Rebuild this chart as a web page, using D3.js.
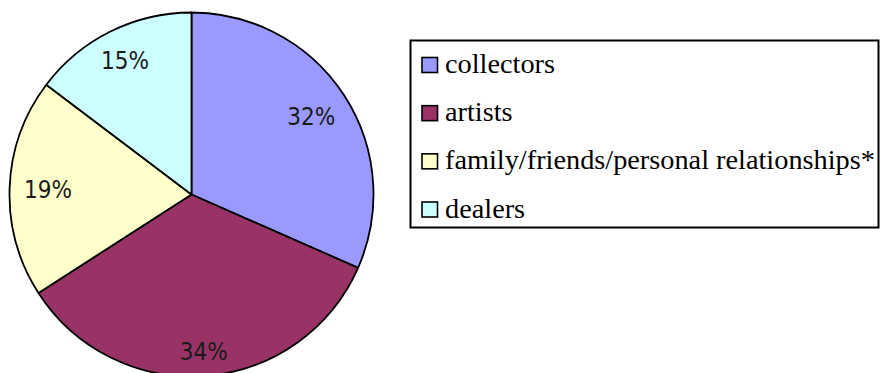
<!DOCTYPE html>
<html>
<head>
<meta charset="utf-8">
<script src="https://cdn.jsdelivr.net/npm/d3@7"></script>
<style>
  body { margin: 0; background: #fff; }
  svg { display: block; }
</style>
</head>
<body>
<div id="chart"></div>
<script>
// Chart data
const categories = ['collectors', 'artists', 'family/friends/personal relationships*', 'dealers'];
const shares = [31.6, 34.3, 19.4, 14.7];
const colors = ['#9999ff', '#993366', '#ffffcc', '#ccffff'];

const width = 881;
const height = 373;

const svg = d3.select('#chart')
    .append('svg')
    .attr('width', width)
    .attr('height', height);

// Pie
const cx = 191.5, cy = 194.5, radius = 182;
const data = categories.map((c, i) => ({name: c, value: shares[i], color: colors[i]}));

const pie = d3.pie()
    .value(d => d.value)
    .sort(null);

const arc = d3.arc()
    .innerRadius(0)
    .outerRadius(radius);

const g = svg.append('g')
    .attr('transform', `translate(${cx},${cy})`);

const arcs = g.selectAll('.slice')
    .data(pie(data))
    .enter()
    .append('g')
    .attr('class', 'slice');

arcs.append('path')
    .attr('d', arc)
    .attr('fill', d => d.data.color)
    .attr('stroke', '#000')
    .attr('stroke-width', 1.8)
    .attr('stroke-linejoin', 'round');

// Labels: push each label box outward until its outer edge sits near labelR
const labelR = 168;
const fmt = d => Math.round(d) + '%';
arcs.append('text')
    .text(d => fmt(d.data.value))
    .attr('font-family', '"DejaVu Sans Condensed", "DejaVu Sans", sans-serif')
    .attr('font-stretch', 'condensed')
    .attr('font-size', 24)
    .attr('fill', '#1a1a1a')
    .attr('text-anchor', 'middle')
    .attr('dy', '0.36em')
    .each(function(d) {
        const bb = this.getBBox();
        const mid = (d.startAngle + d.endAngle) / 2;
        const ux = Math.sin(mid), uy = -Math.cos(mid);
        const proj = Math.abs(ux) * bb.width / 2 + Math.abs(uy) * 8.85;
        const t = labelR - proj;
        d3.select(this).attr('x', ux * t).attr('y', uy * t);
    });

// Legend
const legend = svg.append('g');
legend.append('rect')
    .attr('x', 410.5)
    .attr('y', 40.5)
    .attr('width', 468)
    .attr('height', 187)
    .attr('fill', '#fff')
    .attr('stroke', '#000')
    .attr('stroke-width', 2);

const ly = d3.scalePoint()
    .domain(categories)
    .range([65, 209.5]);

const items = legend.selectAll('.item')
    .data(data)
    .enter()
    .append('g')
    .attr('class', 'item')
    .attr('transform', d => `translate(0,${ly(d.name)})`);

items.append('rect')
    .attr('x', 422)
    .attr('y', -7.5)
    .attr('width', 15.5)
    .attr('height', 15)
    .attr('fill', d => d.color)
    .attr('stroke', '#000')
    .attr('stroke-width', 1.6);

items.append('text')
    .attr('x', 445)
    .attr('y', 8)
    .attr('font-family', '"Liberation Serif", "Times New Roman", serif')
    .attr('font-size', 28.3)
    .attr('fill', '#000')
    .text(d => d.name);
</script>
</body>
</html>
